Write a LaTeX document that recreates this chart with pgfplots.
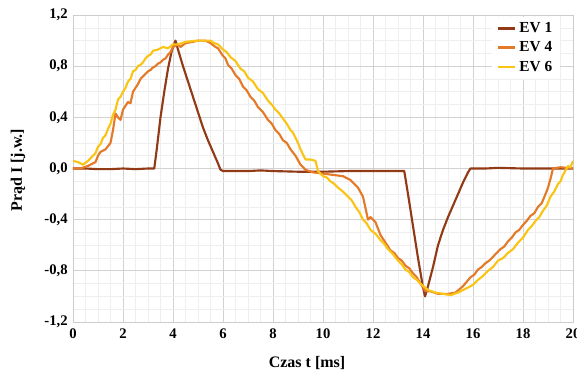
\documentclass[border=0pt]{standalone}
\usepackage{pgfplots}
\pgfplotsset{compat=1.18}
\usepackage{fontspec}
\setmainfont{Liberation Serif}
\usetikzlibrary{calc}
\definecolor{evone}{RGB}{146,58,22}
\definecolor{evfour}{RGB}{228,122,40}
\definecolor{evsix}{RGB}{250,196,22}
\begin{document}
\begin{tikzpicture}
\begin{axis}[
  name=ax,
  scale only axis,
  width=375pt, height=230.25pt,
  xmin=0, xmax=20, ymin=-1.2, ymax=1.2,
  xtick={0,2,...,20},
  ytick={-1.2,-0.8,-0.4,0,0.4,0.8,1.2},
  minor x tick num=3,
  minor y tick num=3,
  grid=both,
  major grid style={gray!35, line width=0.6pt},
  minor grid style={gray!13, line width=0.4pt},
  axis line style={gray!40},
  major tick length=0pt, minor tick length=0pt,
  /pgf/number format/assume math mode=true,
  tick label style={font=\fontsize{11}{12}\selectfont\bfseries},
  xticklabel style={yshift=-1.5pt, /pgf/number format/fixed, /pgf/number format/precision=0, /pgf/number format/assume math mode=true},
  yticklabel style={xshift=-0.5pt, /pgf/number format/fixed, /pgf/number format/fixed zerofill, /pgf/number format/precision=1, /pgf/number format/use comma, /pgf/number format/assume math mode=true},
  xlabel={Czas t [ms]},
  ylabel={Prąd I [j.w.]},
  label style={font=\fontsize{12}{13}\selectfont\bfseries},
  xlabel style={at={(axis description cs:0.468,-0.134)}, anchor=center},
  ylabel style={at={(axis description cs:-0.11,0.495)}, anchor=center},
  legend style={at={(0.975,0.995)}, anchor=north east, draw=none, fill=white,
    font=\fontsize{11.5}{12}\selectfont\bfseries, row sep=1.5pt, inner xsep=4pt},
  legend cell align=left,
  legend image code/.code={\draw[#1, line width=2pt] (0cm,0cm) -- (0.45cm,0cm);},
  every axis plot/.append style={line width=1.6pt, line join=round},
  clip=true,
]
\addplot[evone] coordinates {
(0,0.0) (0.5,0.0) (1,-0.005) (1.5,-0.005) (2,0.0) (2.5,-0.005) (3,0.0) (3.25,0.0)
(3.35,0.15) (3.5,0.4) (3.65,0.6) (3.8,0.78) (3.95,0.92) (4.1,1.0)
(4.2,0.93) (4.4,0.8) (4.6,0.68) (4.8,0.56) (5.0,0.44) (5.2,0.32) (5.4,0.22) (5.6,0.13) (5.8,0.04) (5.9,-0.01)
(6.0,-0.02) (7,-0.02) (7.5,-0.015) (8,-0.02) (9,-0.025) (10,-0.025) (11,-0.02) (12,-0.02) (13,-0.02) (13.25,-0.02)
(13.4,-0.2) (13.6,-0.45) (13.8,-0.7) (14.0,-0.93) (14.08,-1.0)
(14.2,-0.92) (14.4,-0.77) (14.6,-0.6) (14.8,-0.48) (15.0,-0.38) (15.2,-0.29) (15.4,-0.2) (15.6,-0.11) (15.8,-0.03) (15.9,0.0)
(16.5,0.0) (17,0.005) (18,0.0) (19,0.0) (19.5,0.0) (20,0.0)
};
\addlegendentry{EV 1}
\addplot[evfour] coordinates {
(0,0.0) (0.3,0.0) (0.6,0.02) (0.9,0.05) (1.0,0.1) (1.1,0.13) (1.3,0.15) (1.5,0.2)
(1.6,0.3) (1.7,0.43) (1.8,0.40) (1.9,0.38) (2.0,0.46) (2.2,0.52) (2.3,0.51) (2.4,0.6) (2.5,0.63) (2.6,0.66) (2.7,0.7) (2.8,0.72)
(2.9,0.74) (3.0,0.76) (3.1,0.77) (3.2,0.79) (3.3,0.8) (3.4,0.82) (3.5,0.83) (3.6,0.85) (3.7,0.86) (3.8,0.89) (3.9,0.91) (4.0,0.95) (4.2,0.97) (4.3,0.95)
(4.5,0.98) (4.8,0.99) (5.0,1.0) (5.3,1.0) (5.5,0.98) (5.7,0.95) (5.8,0.94) (6.0,0.88) (6.1,0.86) (6.2,0.81)
(6.35,0.78) (6.5,0.73) (6.65,0.7) (6.8,0.64) (6.95,0.61) (7.1,0.56) (7.25,0.53) (7.4,0.48) (7.6,0.44) (7.8,0.38) (7.95,0.35) (8.1,0.3) (8.25,0.27) (8.4,0.22) (8.55,0.2) (8.7,0.15)
(8.9,0.1) (9.1,0.03) (9.3,-0.01) (9.6,-0.03) (10,-0.04) (10.4,-0.05) (10.8,-0.06)
(11.1,-0.09) (11.4,-0.15) (11.6,-0.22) (11.8,-0.40) (11.9,-0.38) (12.1,-0.42) (12.3,-0.52)
(12.5,-0.58) (12.7,-0.64) (12.85,-0.66) (13.0,-0.7) (13.15,-0.72) (13.3,-0.76) (13.45,-0.78) (13.6,-0.82) (13.75,-0.85) (13.9,-0.9) (14.1,-0.96)
(14.3,-0.96) (14.6,-0.98) (15.0,-0.98) (15.3,-0.97) (15.6,-0.92) (15.9,-0.85) (16.05,-0.83) (16.2,-0.79)
(16.35,-0.77) (16.5,-0.74) (16.65,-0.72) (16.8,-0.69) (16.95,-0.66) (17.1,-0.63) (17.25,-0.61) (17.4,-0.57) (17.55,-0.54) (17.7,-0.5) (17.85,-0.48) (18.0,-0.44) (18.15,-0.41) (18.3,-0.37)
(18.45,-0.35) (18.6,-0.3) (18.75,-0.27) (18.9,-0.2) (19.0,-0.15) (19.1,-0.08) (19.2,0.0) (19.5,0.01) (20,0.0)
};
\addlegendentry{EV 4}
\addplot[evsix] coordinates {
(0,0.06) (0.2,0.05) (0.4,0.03) (0.6,0.06) (0.8,0.1) (0.9,0.12) (1.0,0.17) (1.1,0.19) (1.2,0.24) (1.3,0.26) (1.4,0.31)
(1.5,0.35) (1.6,0.42) (1.7,0.46) (1.8,0.54) (1.9,0.56) (2.0,0.6) (2.1,0.63) (2.2,0.68) (2.3,0.7) (2.4,0.76) (2.5,0.77) (2.6,0.8) (2.7,0.81) (2.8,0.83) (2.9,0.86) (3.0,0.88)
(3.1,0.89) (3.2,0.92) (3.4,0.93) (3.6,0.95) (3.8,0.94) (4.0,0.97) (4.2,0.97) (4.5,0.99) (5.0,1.0)
(5.5,1.0) (5.65,0.98) (5.8,0.97) (6.0,0.93) (6.15,0.91) (6.3,0.87) (6.5,0.84) (6.7,0.78) (6.85,0.76) (7.0,0.71) (7.2,0.68) (7.4,0.62) (7.6,0.59) (7.8,0.53)
(7.95,0.5) (8.1,0.46) (8.25,0.43) (8.4,0.39) (8.55,0.35) (8.7,0.3) (8.8,0.28) (8.9,0.24) (9.0,0.2) (9.1,0.15) (9.3,0.07) (9.5,0.07) (9.7,0.06)
(9.8,-0.02) (10.0,-0.06) (10.15,-0.07) (10.3,-0.1) (10.45,-0.12) (10.6,-0.15) (10.8,-0.18) (11.0,-0.22) (11.15,-0.25) (11.3,-0.3) (11.45,-0.34) (11.6,-0.4)
(11.75,-0.43) (11.9,-0.48) (12.1,-0.51) (12.3,-0.56) (12.45,-0.59) (12.6,-0.63) (12.8,-0.67) (13.0,-0.72) (13.15,-0.75) (13.3,-0.79) (13.45,-0.81) (13.6,-0.85) (13.75,-0.87) (13.9,-0.9)
(14.2,-0.95) (14.5,-0.97) (14.8,-0.98) (15.1,-0.99) (15.4,-0.97) (15.6,-0.95) (15.8,-0.93) (16.0,-0.91) (16.2,-0.87) (16.4,-0.84)
(16.6,-0.8) (16.8,-0.77) (17.0,-0.72) (17.2,-0.7) (17.4,-0.66) (17.6,-0.63) (17.8,-0.58) (18.0,-0.54) (18.2,-0.48) (18.35,-0.45) (18.5,-0.41) (18.65,-0.38) (18.8,-0.33)
(18.95,-0.29) (19.1,-0.22) (19.25,-0.18) (19.4,-0.12) (19.5,-0.1) (19.6,-0.05) (19.8,0.02) (19.9,0.01) (20,0.06)
};
\addlegendentry{EV 6}
\end{axis}
\pgfresetboundingbox
\path ($(ax.south west)+(-54.75pt,-37.5pt)$) rectangle ($(ax.north east)+(3pt,11.25pt)$);
\end{tikzpicture}
\end{document}
